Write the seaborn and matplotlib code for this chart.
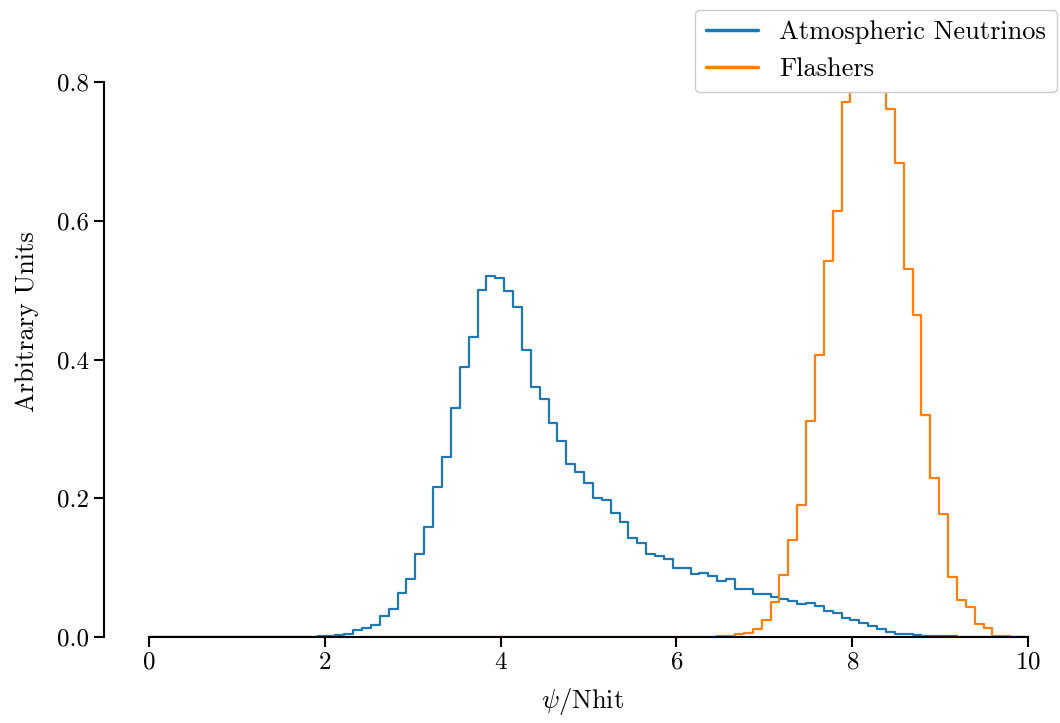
import numpy as np
import pandas as pd
import seaborn as sns
import matplotlib.pyplot as plt

# 99 bins between 0 and 10, heights (density)
n_bins = 99
bin_edges = np.linspace(0, 10, n_bins + 1)
bin_centers = 0.5 * (bin_edges[:-1] + bin_edges[1:])

# bins 17..93 for the atmospheric neutrinos
nu_start = 17
nu_vals = [0.0002, 0.0005, 0.001,
           0.002, 0.003, 0.005, 0.010, 0.013, 0.017,
           0.031, 0.041, 0.064, 0.083,
           0.119, 0.159, 0.217, 0.259,
           0.330, 0.390, 0.433, 0.500,
           0.521, 0.518, 0.499, 0.476,
           0.414, 0.361, 0.343, 0.309,
           0.282, 0.250, 0.238, 0.222,
           0.201, 0.197, 0.179, 0.166,
           0.143, 0.135, 0.119, 0.117,
           0.112, 0.099, 0.100, 0.091,
           0.093, 0.088, 0.081, 0.083,
           0.069, 0.069, 0.062, 0.062,
           0.057, 0.055, 0.052, 0.048,
           0.049, 0.044, 0.037, 0.034,
           0.028, 0.025, 0.020, 0.016,
           0.011, 0.007, 0.005, 0.004,
           0.003, 0.002, 0.0015, 0.001, 0.001, 0.0005, 0.0005, 0.0005]

# bins 62..97 for the flashers
fl_start = 62
fl_vals = [0.0005, 0.0005,
           0.001, 0.001, 0.004, 0.006, 0.012, 0.024,
           0.050, 0.089, 0.140, 0.190,
           0.312, 0.406, 0.542, 0.614,
           0.771, 0.81, 0.86, 0.86, 0.82,
           0.761, 0.684, 0.531, 0.464,
           0.320, 0.230, 0.177, 0.087,
           0.053, 0.043, 0.019, 0.013,
           0.002, 0.001, 0.0005]

labels = ['Atmospheric Neutrinos', 'Flashers']


def full_hist(start, vals):
    h = np.zeros(n_bins)
    h[start:start + len(vals)] = vals
    return h


df_nu = pd.DataFrame({'psi': bin_centers, 'w': full_hist(nu_start, nu_vals)})
df_fl = pd.DataFrame({'psi': bin_centers, 'w': full_hist(fl_start, fl_vals)})

sns.set_style('ticks', {'axes.edgecolor': 'black', 'xtick.color': 'black',
                        'ytick.color': 'black', 'text.color': 'black',
                        'axes.labelcolor': 'black'})
plt.rcParams['font.family'] = 'serif'
plt.rcParams['font.serif'] = ['cmr10', 'DejaVu Serif']
plt.rcParams['mathtext.fontset'] = 'cm'
plt.rcParams['axes.formatter.use_mathtext'] = True
plt.rcParams['axes.unicode_minus'] = False

fig = plt.figure(figsize=(10.6, 7.23), dpi=100)
ax = fig.add_axes([104 / 1060, 86 / 723, 956 / 1060, 631 / 723])

sns.histplot(data=df_nu, x='psi', weights='w', bins=n_bins, binrange=(0, 10),
             stat='count', element='step', fill=False, color='#1f77b4',
             linewidth=1.6, label=labels[0], ax=ax)
sns.histplot(data=df_fl, x='psi', weights='w', bins=n_bins, binrange=(0, 10),
             stat='count', element='step', fill=False, color='#ff7f0e',
             linewidth=1.6, label=labels[1], ax=ax)

ax.set_xlim(-0.512, 10.364)
ax.set_ylim(0, 0.91)
ax.set_xticks(range(0, 11, 2))
ax.set_yticks([0.0, 0.2, 0.4, 0.6, 0.8])
ax.set_yticklabels(['0.0', '0.2', '0.4', '0.6', '0.8'])
ax.tick_params(labelsize=18, length=7, width=1.5, colors='black')
for s in ax.spines.values():
    s.set_linewidth(1.5)
sns.despine(ax=ax, trim=True)

ax.set_xlabel(r'$\psi/\mathrm{Nhit}$', fontsize=19, labelpad=9)
ax.set_ylabel('Arbitrary Units', fontsize=19, labelpad=13)

leg = ax.legend(loc='upper right', bbox_to_anchor=(0.997, 0.986),
                bbox_transform=fig.transFigure, borderaxespad=0, fontsize=19,
                framealpha=1)
for line in leg.get_lines():
    line.set_linewidth(2.5)

fig.savefig('out.png', dpi=100)
